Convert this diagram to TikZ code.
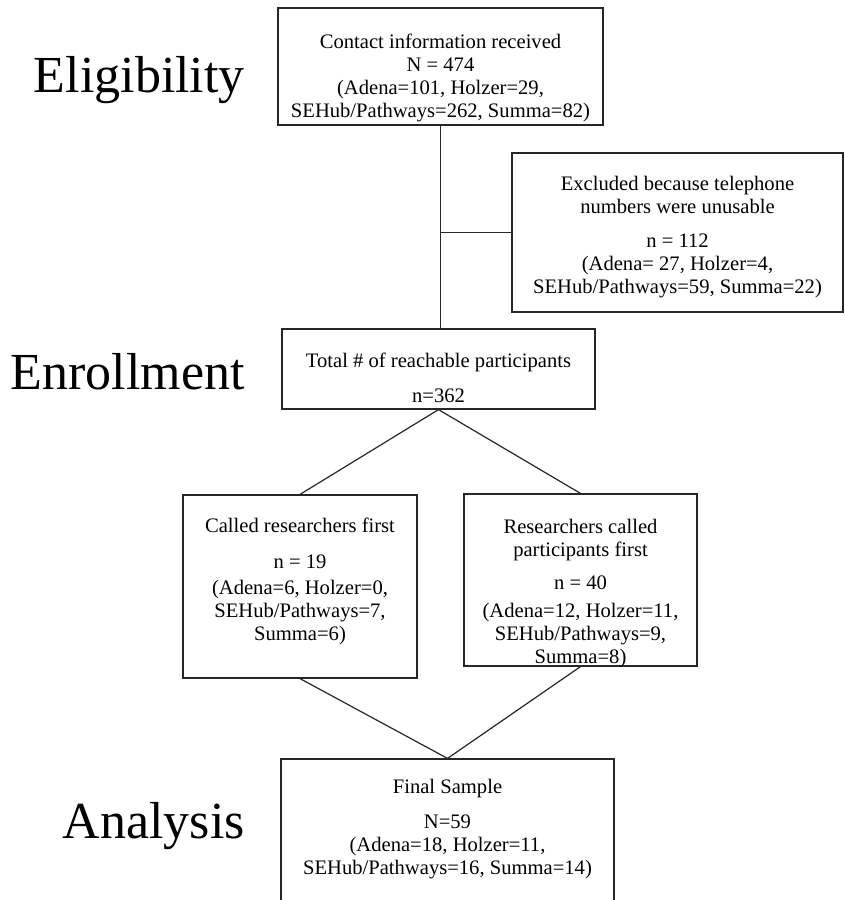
\documentclass[tikz,border=0pt]{standalone}
\usepackage{fontspec}
\setmainfont{Liberation Serif}
\usepackage{tikz}

\begin{document}
\begin{tikzpicture}[x=1pt, y=-1pt,
  box/.style={draw=black!85, line width=1.2pt, inner sep=0pt},
  txt/.style={align=center, inner sep=0pt, font=\fontsize{20.6}{23}\selectfont},
  stage/.style={anchor=base east, inner sep=0pt, font=\fontsize{52}{60}\selectfont},
  link/.style={draw=black!85, line width=1.2pt}]
  \useasboundingbox (0,0) rectangle (844,900);

  % Stage labels
  \node[stage] (elig) at (245,92) {Eligibility};
  \node[stage] (enrol) at (245,389) {Enrollment};
  \node[stage] (anal) at (245,838) {Analysis};

  % Boxes
  \node[box, minimum width=325, minimum height=117] (contact) at (440.5,66.5) {};
  \node[box, minimum width=331, minimum height=159] (excl) at (677.5,232.5) {};
  \node[box, minimum width=313, minimum height=80] (total) at (438.5,369) {};
  \node[box, minimum width=234, minimum height=183] (called) at (300,586.5) {};
  \node[box, minimum width=233, minimum height=172] (res) at (580.5,580) {};
  \node[box, minimum width=333, minimum height=181] (final) at (447.5,849.5) {};

  % Box texts
  \node[txt] (contacttxt) at ([yshift=-11pt]contact.center)
    {Contact information received\\N = 474\\(Adena=101, Holzer=29,\\SEHub/Pathways=262, Summa=82)};
  \node[txt] (excltxt) at ([yshift=-4.5pt]excl.center)
    {Excluded because telephone\\numbers were unusable\\[11pt]n = 112\\(Adena= 27, Holzer=4,\\SEHub/Pathways=59, Summa=22)};
  \node[txt] (totaltxt) at ([yshift=-8.5pt]total.center)
    {Total \# of reachable participants\\[12pt]n=362};
  \node[txt] (calledtxt) at ([yshift=5.5pt]called.center)
    {Called researchers first\\[13pt]n = 19\\[3pt](Adena=6, Holzer=0,\\SEHub/Pathways=7,\\Summa=6)};
  \begin{scope}
    \clip (res.south west) rectangle (res.north east);
    \node[txt] (restxt) at ([yshift=-13.5pt]res.center)
      {Researchers called\\participants first\\[10pt]n = 40\\[5pt](Adena=12, Holzer=11,\\SEHub/Pathways=9,\\Summa=8)};
  \end{scope}
  \node[txt] (finaltxt) at ([yshift=20.5pt]final.center)
    {Final Sample\\[12pt]N=59\\(Adena=18, Holzer=11,\\SEHub/Pathways=16, Summa=14)};

  % Connectors
  \draw[link] (contact.south) -- (contact.south |- total.north);
  \draw[link] (contact.south |- excl.west) -- (excl.west);
  \draw[link] (total.south) -- (called.north);
  \draw[link] (total.south) -- (res.north);
  \draw[link] (called.south) -- (final.north);
  \draw[link] (res.south) -- (final.north);
\end{tikzpicture}
\end{document}
